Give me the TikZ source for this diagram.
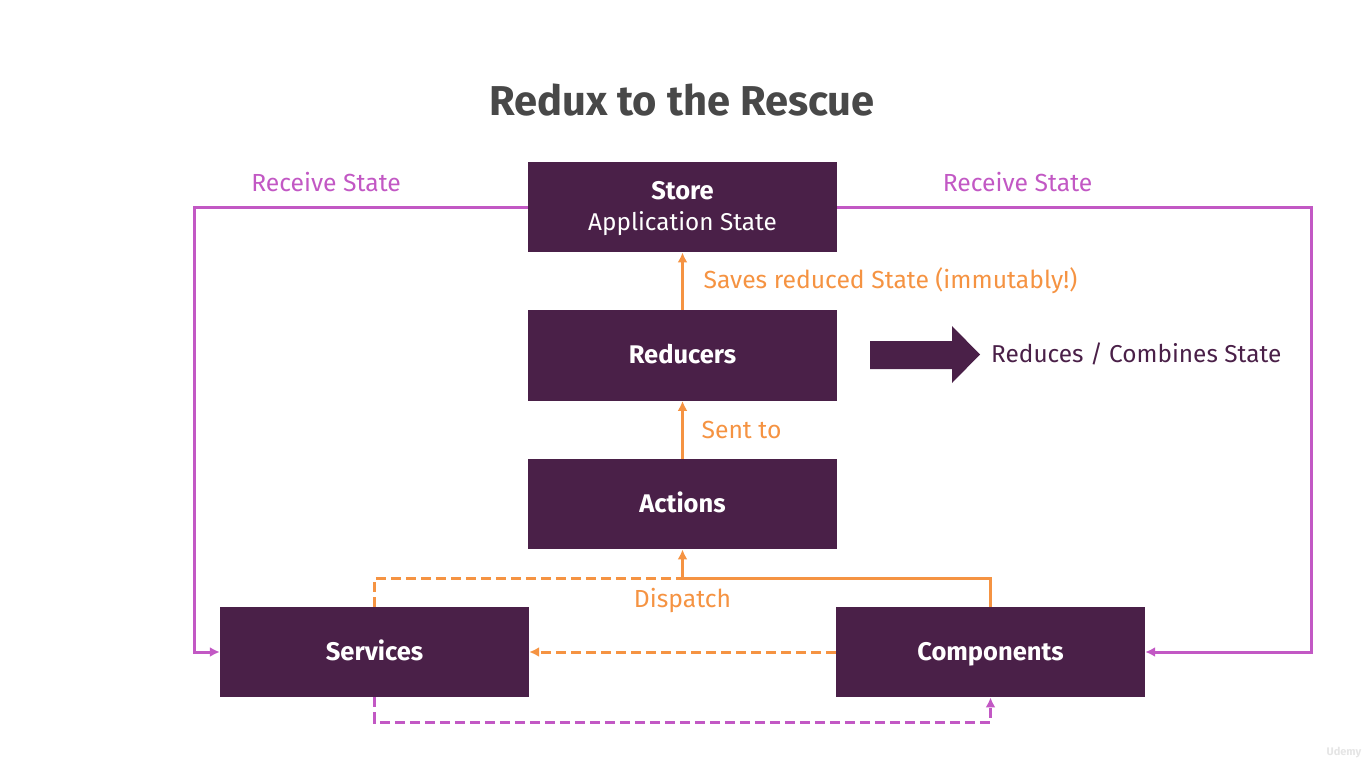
\documentclass[tikz,border=0pt]{standalone}
\usepackage{fontspec}
\setmainfont{Fira Sans}
\usetikzlibrary{positioning,arrows.meta}
\definecolor{plum}{HTML}{4A2048}
\definecolor{pink}{HTML}{C258C4}
\definecolor{amber}{HTML}{F59342}
\definecolor{heading}{HTML}{484848}
\newcommand{\boxstrut}{\rule[-7pt]{0pt}{30pt}}
\tikzset{
    boxnode/.style={fill=plum,text=white,minimum width=309pt,minimum height=90.5pt,inner sep=0pt,align=center,font=\fontsize{25.5}{31}\selectfont},
    sendline/.style={amber,line width=3pt,-{Latex[length=10pt,width=10pt]}},
    stateline/.style={pink,line width=3pt,-{Latex[length=10pt,width=10pt]}},
    sendlabel/.style={amber,font=\fontsize{24.7}{30}\selectfont\fontseries{l}\selectfont},
    statelabel/.style={pink,font=\fontsize{24.7}{30}\selectfont\fontseries{l}\selectfont},
    longdash/.style={dash pattern=on 10pt off 5pt}
}
\begin{document}
\begin{tikzpicture}[x=1pt,y=-1pt]
    \useasboundingbox (0,0) rectangle (1366,768);
    \node[heading,font=\fontsize{41.7}{48}\selectfont\bfseries] (title) at (682,100.5) {Redux to the Rescue};
    % boxes
    \node[boxnode] (store) at (682.5,207) {\rule{0pt}{21pt}\textbf{Store}\\{\fontsize{24.3}{31}\fontseries{l}\selectfont Application State}};
    \node[boxnode] (reducers) at (682.5,355.5) {\boxstrut\textbf{Reducers}};
    \node[boxnode] (actions) at (682.5,504) {\boxstrut\textbf{Actions}};
    \node[boxnode] (services) at (374.5,652) {\boxstrut\textbf{Services}};
    \node[boxnode] (components) at (990.5,652) {\boxstrut\textbf{Components}};
    % corners of the lines
    \coordinate (leftrail) at (194,430);
    \coordinate (rightrail) at (1311,430);
    \coordinate (bus) at (682.5,578);
    \coordinate (lowrail) at (682.5,722);
    % orange
    \draw[sendline] (reducers) -- (store);
    \draw[sendline] (actions) -- (reducers);
    \draw[sendline] (bus) -- (actions);
    \draw[amber,line width=3pt] (components.north) |- (bus);
    \draw[amber,line width=3pt,longdash] (services.north) |- (bus);
    \draw[sendline,longdash] (components) -- (services);
    % purple
    \draw[stateline] (store) -| (leftrail) |- (services);
    \draw[stateline] (store) -| (rightrail) |- (components);
    \draw[stateline,longdash] (services.south) |- (lowrail) -| (components.south);
    % labels
    \node[statelabel] (recvleft) at (326,182) {Receive State};
    \node[statelabel] (recvright) at (1017.5,182) {Receive State};
    \node[sendlabel] (saves) at (890.5,280.5) {Saves reduced State (immutably!)};
    \node[sendlabel] (sent) at (741.5,429.5) {Sent to};
    \node[sendlabel] (dispatch) at (682.5,600) {Dispatch};
    % big arrow
    \fill[plum] (870,341) -- (952,341) -- (952,326) -- (980,354.5) -- (952,383) -- (952,369) -- (870,369) -- cycle;
    \node[plum,anchor=west,inner sep=0pt,font=\fontsize{24.4}{30}\selectfont\fontseries{l}\selectfont] (reduces) at (991,354) {Reduces / Combines State};
    \node[black!10,font=\fontsize{11}{13}\selectfont\bfseries] (mark) at (1344,753) {Udemy};
\end{tikzpicture}
\end{document}
